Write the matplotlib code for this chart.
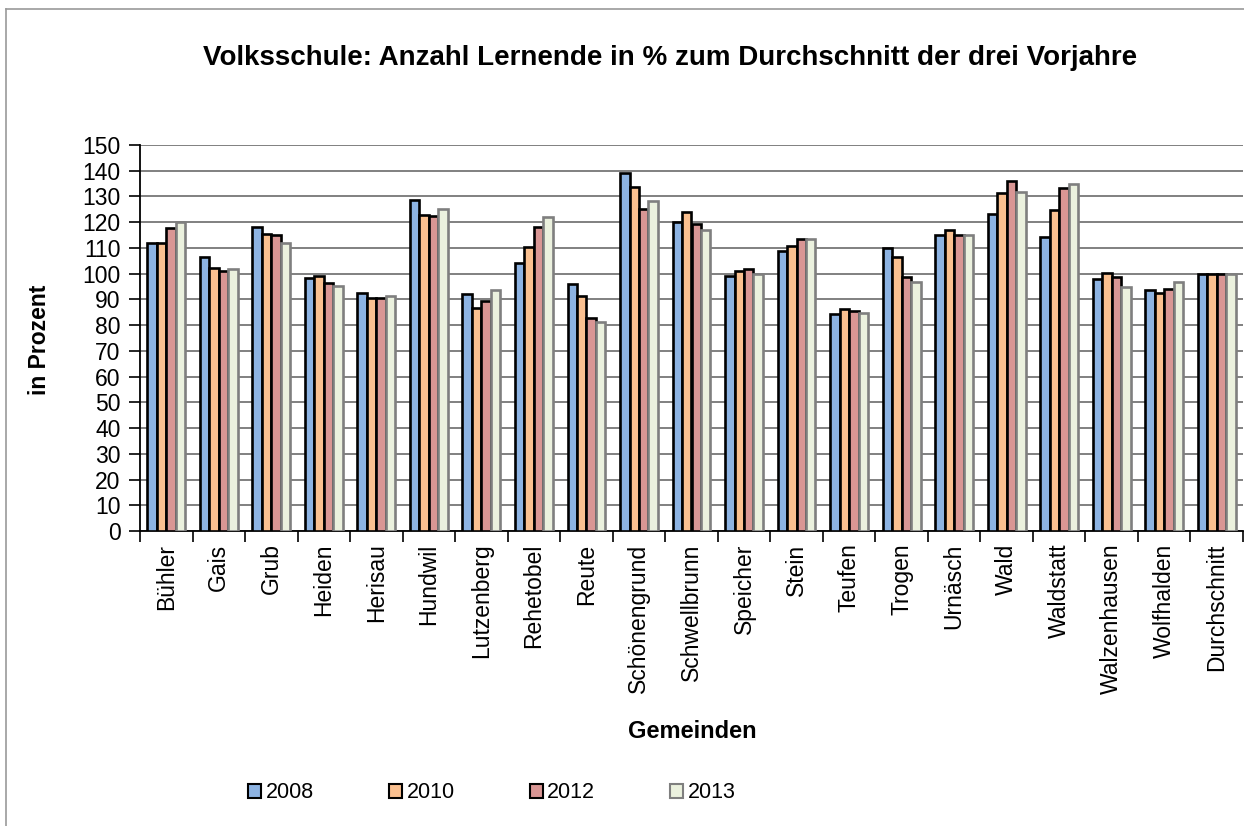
import matplotlib
matplotlib.use("Agg")
import matplotlib.pyplot as plt
from matplotlib.patches import Patch
from matplotlib.lines import Line2D
import numpy as np

plt.rcParams['font.family'] = ['Liberation Sans', 'DejaVu Sans']

gemeinden = ["Bühler", "Gais", "Grub", "Heiden", "Herisau", "Hundwil", "Lutzenberg",
             "Rehetobel", "Reute", "Schönengrund", "Schwellbrunn", "Speicher", "Stein",
             "Teufen", "Trogen", "Urnäsch", "Wald", "Waldstatt", "Walzenhausen",
             "Wolfhalden", "Durchschnitt"]
years = ["2008", "2010", "2012", "2013"]

v2008 = [112.0, 106.5, 118.1, 98.3, 92.5, 128.7, 92.1, 104.1, 96.0, 139.0, 120.2,
         99.1, 108.7, 84.5, 110.0, 115.0, 123.3, 114.2, 97.9, 93.7, 100.0]
v2010 = [112.0, 102.2, 115.4, 99.1, 90.4, 122.9, 86.6, 110.5, 91.5, 133.7, 123.8,
         100.9, 110.7, 86.3, 106.5, 116.8, 131.3, 124.9, 100.3, 92.5, 100.0]
v2012 = [117.7, 101.0, 115.0, 96.4, 90.4, 122.5, 89.4, 118.2, 82.8, 125.2, 119.4,
         101.8, 113.6, 85.5, 98.7, 115.0, 135.9, 133.1, 98.8, 94.1, 100.0]
v2013 = [119.9, 101.7, 112.1, 95.1, 91.2, 125.3, 93.8, 122.2, 81.4, 128.2, 116.8,
         99.9, 113.4, 84.6, 96.6, 115.1, 131.7, 134.9, 94.7, 96.6, 100.0]
series = [v2008, v2010, v2012, v2013]

colors = ["#8DB3E2", "#FAC090", "#D99694", "#EBF1DE"]
edges = ["#000000", "#000000", "#000000", "#7F7F7F"]

W, H = 1244, 826
fig = plt.figure(figsize=(W / 100, H / 100), dpi=100)

def fx(px):
    return px / W

def fy(py):
    return 1 - py / H

ax = fig.add_axes([fx(140), fy(531), fx(1243) - fx(140), fy(145) - fy(531)])

x = np.arange(len(gemeinden))
bw = 0.18
for i, (vals, c, ec) in enumerate(zip(series, colors, edges)):
    ax.bar(x + (i - 1.5) * bw, vals, width=bw, color=c, edgecolor=ec,
           linewidth=1.9, zorder=3)

ax.set_xlim(-0.5, len(gemeinden) - 0.5)
ax.set_ylim(0, 150)
ax.set_yticks(np.arange(0, 151, 10))
ax.yaxis.grid(True, color="#808080", linewidth=1.4, zorder=0)
ax.set_axisbelow(True)
ax.tick_params(axis='y', labelsize=16.5, length=8, width=1.2, direction='out', pad=6)

ax.set_xticks(x)
ax.set_xticklabels(gemeinden, rotation=90, fontsize=16.5)
ax.tick_params(axis='x', length=0, pad=9)
ax.set_xticks(np.arange(-0.5, len(gemeinden), 1), minor=True)
ax.tick_params(axis='x', which='minor', length=8, width=1.2, direction='out')

for s in ["top", "right"]:
    ax.spines[s].set_visible(False)
ax.spines["left"].set_linewidth(1.3)
ax.spines["bottom"].set_linewidth(1.3)

fig.text(fx(670), fy(58), "Volksschule: Anzahl Lernende in % zum Durchschnitt der drei Vorjahre",
         ha='center', va='center', fontsize=20, fontweight='bold')
fig.text(fx(40), fy(340), "in Prozent", rotation=90, ha='center', va='center',
         fontsize=16.5, fontweight='bold')
fig.text(fx(692), fy(731), "Gemeinden", ha='center', va='center',
         fontsize=17, fontweight='bold')

handles = [Patch(facecolor=c, edgecolor=ec, linewidth=1.5) for c, ec in zip(colors, edges)]
fig.legend(handles, years, loc='center', bbox_to_anchor=(fx(492), fy(793)), ncol=4,
           frameon=False, fontsize=15.5, handlelength=0.6, handleheight=0.6,
           handletextpad=0.2, columnspacing=3.5)

# outer frame (left and top edges visible)
fig.add_artist(Line2D([fx(6), fx(6)], [fy(9), 0], color="#999999", linewidth=1.2))
fig.add_artist(Line2D([fx(6), 1], [fy(9), fy(9)], color="#999999", linewidth=1.2))

fig.savefig("out.png", dpi=100)
